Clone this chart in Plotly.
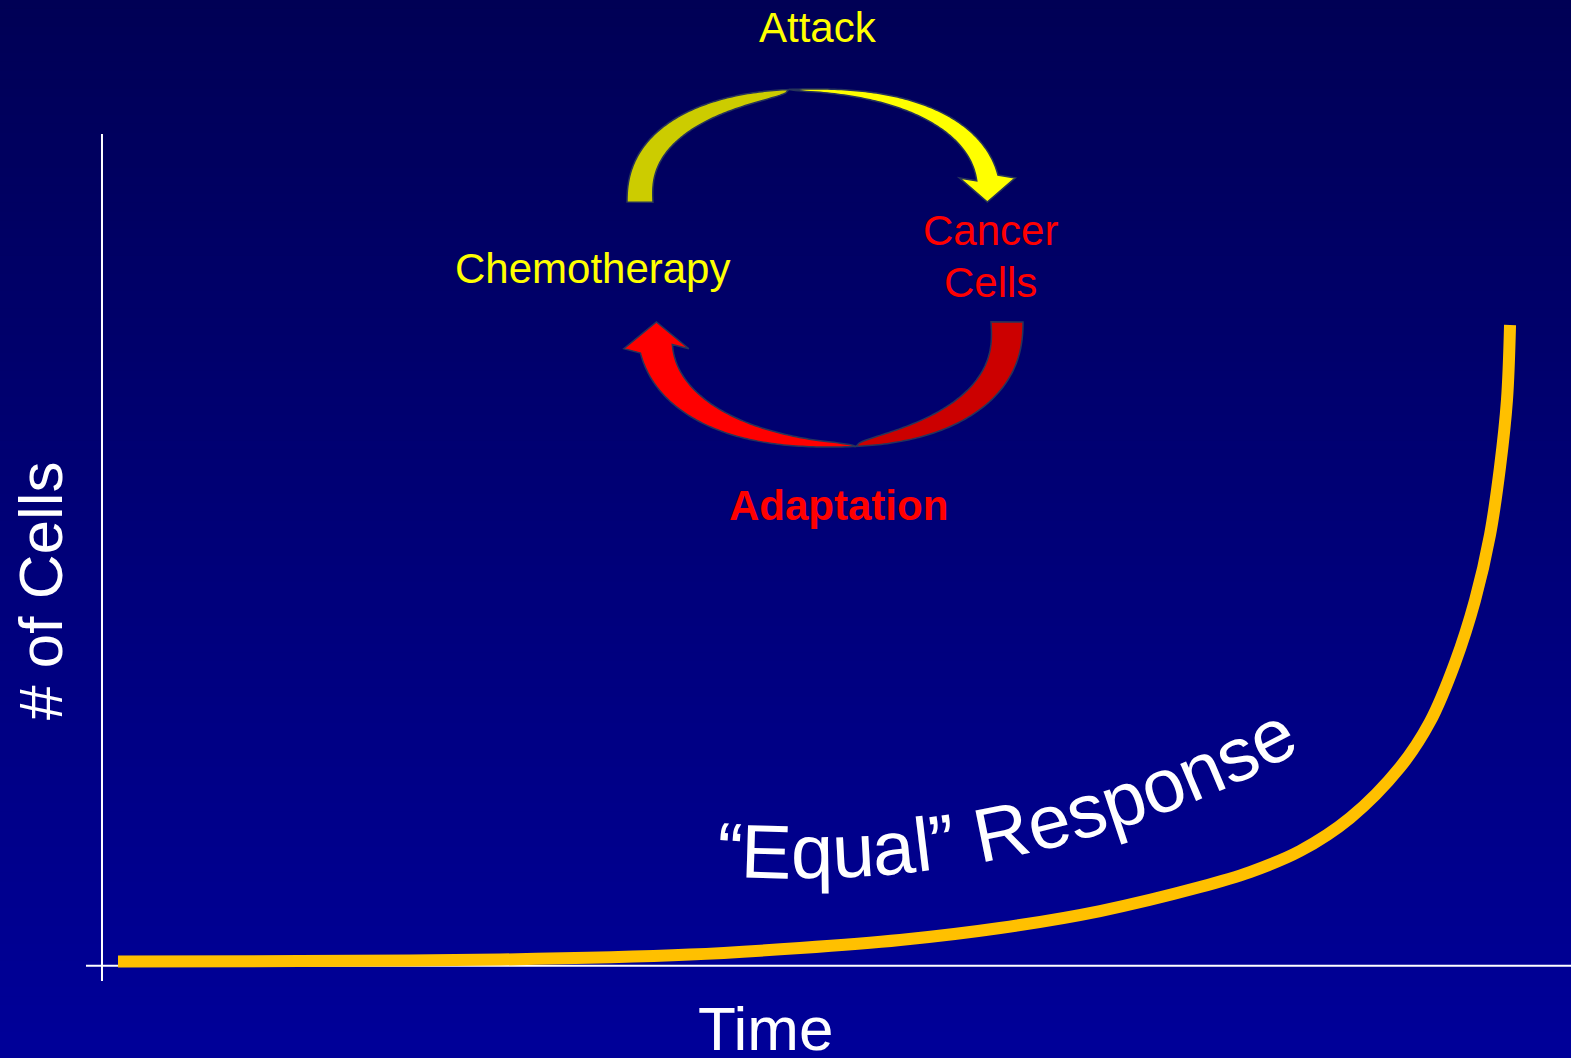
import numpy as np
import plotly.graph_objects as go

W, H = 1571, 1058

# ---------------- data ----------------
time_vals = [0, 13.07, 27.44, 41.09, 48.99, 56.18, 63.36, 70.55, 77.73, 81.32,
             84.91, 88.51, 92.10, 94.25, 96.05, 97.49, 98.56, 99.28, 99.78, 100]
cell_vals = [0.70, 0.78, 1.01, 1.79, 2.81, 4.06, 5.93, 8.58, 12.32, 14.66,
             17.94, 23.09, 31.00, 38.10, 47.30, 57.10, 67.24, 77.85, 88.30, 100]

x_title = "Time"
y_title = "# of Cells"
curve_label = "\u201cEqual\u201d Response"
cycle_top = "Attack"
cycle_left = "Chemotherapy"
cycle_right_1 = "Cancer"
cycle_right_2 = "Cells"
cycle_bottom = "<b>Adaptation</b>"

# axis ranges (data units)
x_range = [-8.477, 104.38]
y_range = [-14.35, 150.70]

FONT = "Liberation Sans, Arial, Helvetica, sans-serif"


def px(x):
    return x / W


def py(y):
    return 1 - y / H


fig = go.Figure()

fig.add_trace(go.Scatter(
    x=time_vals, y=cell_vals, mode="lines",
    line=dict(color="#FFC000", width=12, shape="spline", smoothing=1.0),
    hoverinfo="skip", showlegend=False))

shapes = []
# gradient background
N = 120
top = np.array([0, 0, 85])
bot = np.array([0, 0, 153])
for i in range(N):
    f = (i + 0.5) / N  # 0 at top
    c = top + (bot - top) * f
    shapes.append(dict(type="rect", xref="paper", yref="paper",
                       x0=0, x1=1, y0=1 - i / N, y1=1 - (i + 1) / N - 0.001,
                       fillcolor="rgb(%d,%d,%d)" % tuple(c.round()),
                       line=dict(width=0), layer="below"))

# axis lines
shapes.append(dict(type="line", xref="x", yref="y", x0=-1.15, x1=-1.15,
                   y0=-2.34, y1=129.8, line=dict(color="white", width=2),
                   layer="below"))
shapes.append(dict(type="line", xref="x", yref="y", x0=-2.30, x1=104.38,
                   y0=0.05, y1=0.05, line=dict(color="white", width=2),
                   layer="below"))


def sup(cx, cy, rx, ry, t, n=2.3, down=False):
    c, s = np.cos(t), np.sin(t)
    x = cx + rx * np.sign(c) * np.abs(c) ** (2 / n)
    y = cy + (1 if down else -1) * ry * np.abs(s) ** (2 / n)
    return x, y


def ribbon(cx, cy, rx, ry, t0, t1, wmax, grow, down, p, head=None):
    t = np.linspace(t0, t1, 100)
    x, y = sup(cx, cy, rx, ry, t, down=down)
    dx, dy = np.gradient(x), np.gradient(y)
    L = np.hypot(dx, dy) + 1e-9
    nx, ny = -dy / L, dx / L
    dot = nx * (cx - x) + ny * (cy - y)
    sgn = np.where(dot > 0, 1, -1)
    nx, ny = nx * sgn, ny * sgn
    u = np.linspace(0, 1, len(t))
    w = wmax * (u ** p if grow else (1 - u) ** p)
    ix, iy = x + nx * w, y + ny * w
    pts = list(zip(x, y))
    if head is not None:
        hw, tipy = head
        m = (x[-1] + ix[-1]) / 2
        ybase = (y[-1] + iy[-1]) / 2
        if x[-1] > ix[-1]:
            pts += [(m + hw, ybase), (m, tipy), (m - hw, ybase)]
        else:
            pts += [(m - hw, ybase), (m, tipy), (m + hw, ybase)]
    pts += list(zip(ix[::-1], iy[::-1]))
    path = "M " + " L ".join("%.5f,%.5f" % (px(a), py(b)) for a, b in pts) + " Z"
    return path


OUT = "#27345A"
# yellow arrow (top)
shapes.append(dict(type="path", xref="paper", yref="paper",
                   path=ribbon(814, 202, 187, 113, np.pi, np.pi / 2 + 0.10, 26, False, False, 0.45),
                   fillcolor="#CCCC00", line=dict(color=OUT, width=1.5)))
shapes.append(dict(type="path", xref="paper", yref="paper",
                   path=ribbon(814, 202, 187, 113, np.pi / 2 + 0.10, 0.194, 22, True, False, 0.75,
                               head=(28, 202)),
                   fillcolor="#FFFF00", line=dict(color=OUT, width=1.5)))
# red arrow (bottom)
shapes.append(dict(type="path", xref="paper", yref="paper",
                   path=ribbon(830, 322, 193, 125, 0.0, np.pi / 2 - 0.10, 32, False, True, 0.5),
                   fillcolor="#CC0000", line=dict(color=OUT, width=1.5)))
shapes.append(dict(type="path", xref="paper", yref="paper",
                   path=ribbon(830, 322, 193, 125, np.pi / 2 - 0.10, np.pi - 0.203, 33, True, True, 0.7,
                               head=(32.5, 322)),
                   fillcolor="#FF0000", line=dict(color=OUT, width=1.5)))

ann = []


def text(t, x, y, size, color, angle=0):
    ann.append(dict(text=t, x=px(x), y=py(y), xref="paper", yref="paper",
                    showarrow=False, xanchor="center", yanchor="middle",
                    textangle=angle,
                    font=dict(family=FONT, size=size, color=color)))


text(cycle_top, 818, 27, 42, "#FFFF00")
text(cycle_left, 592, 268, 42, "#FFFF00")
text(cycle_right_1, 990, 231, 42, "#FF0000")
text(cycle_right_2, 990, 282, 42, "#FF0000")
text(cycle_bottom, 838, 505, 42, "#FF0000")
text(y_title, 40, 591, 62, "white", angle=-90)
text(x_title, 765, 1028, 62, "white")

# curved label along an arc
adv = {"\u201c": 0.333, "E": 0.667, "q": 0.556, "u": 0.556, "a": 0.556, "l": 0.222,
       "\u201d": 0.333, " ": 0.278, "R": 0.722, "e": 0.556, "s": 0.5, "p": 0.556,
       "o": 0.556, "n": 0.556}
F_ADV, F_FONT = 76, 76
CX, CY, R = 797.9, -176.9, 1055.4
phi0 = np.arcsin((715 - CX) / R)
s = 0.0
for ch in curve_label:
    a = adv[ch] * F_ADV
    ph = phi0 + (s + a / 2) / R
    bx = CX + R * np.sin(ph)
    by = CY + R * np.cos(ph)
    if ch != " ":
        cx_ = bx - 0.35 * F_FONT * np.sin(ph)
        cy_ = by - 0.35 * F_FONT * np.cos(ph)
        text(ch, cx_, cy_, F_FONT, "white", angle=-np.degrees(ph))
    s += a

fig.update_layout(
    width=W, height=H,
    margin=dict(l=0, r=0, t=0, b=0, pad=0),
    paper_bgcolor="rgb(0,0,153)", plot_bgcolor="rgba(0,0,0,0)",
    xaxis=dict(range=x_range, visible=False, fixedrange=True),
    yaxis=dict(range=y_range, visible=False, fixedrange=True),
    shapes=shapes, annotations=ann, showlegend=False,
)

fig.write_html("out.html", config={"displayModeBar": False},
               post_script="document.body.style.margin='0px';document.body.style.overflow='hidden';")
